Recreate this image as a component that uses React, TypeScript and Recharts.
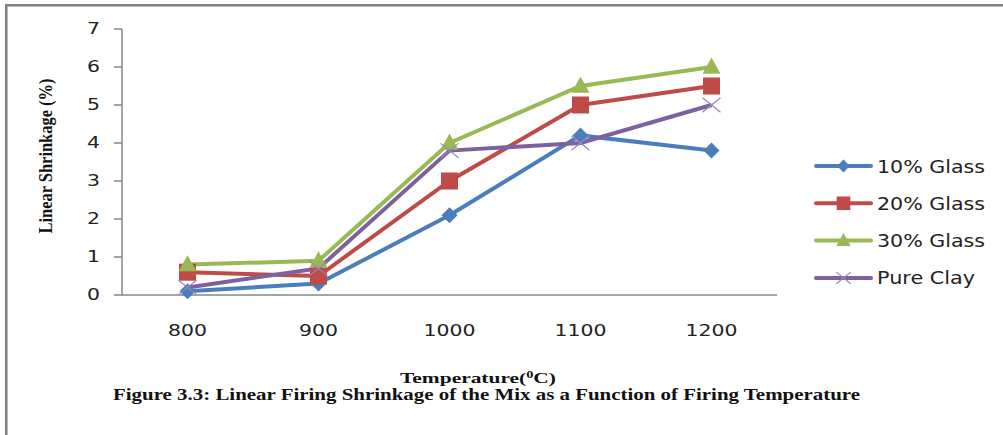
import React from 'react';
import { LineChart, Line, XAxis, YAxis, Legend } from 'recharts';

const temperatures = ['800', '900', '1000', '1100', '1200'];
const glass10 = [0.1, 0.3, 2.1, 4.2, 3.8];
const glass20 = [0.6, 0.5, 3.0, 5.0, 5.5];
const glass30 = [0.8, 0.9, 4.0, 5.5, 6.0];
const pureClay = [0.2, 0.7, 3.8, 4.0, 5.0];
const yTicks = [0, 1, 2, 3, 4, 5, 6, 7];

const data = temperatures.map((temp, i) => ({
  temp,
  glass10: glass10[i],
  glass20: glass20[i],
  glass30: glass30[i],
  pureClay: pureClay[i],
}));

const BLUE = '#4A7EBB';
const RED = '#BE4B48';
const GREEN = '#98B954';
const PURPLE = '#7D60A0';
const AXIS = '#868686';

type Shape = 'diamond' | 'square' | 'triangle' | 'cross';

function marker(shape: Shape, cx: number, cy: number, color: string, s: number, key?: string) {
  if (shape === 'diamond') {
    return (
      <polygon key={key} points={`${cx},${cy - s} ${cx + s},${cy} ${cx},${cy + s} ${cx - s},${cy}`} fill={color} />
    );
  }
  if (shape === 'square') {
    return <rect key={key} x={cx - s} y={cy - s} width={s * 2} height={s * 2} fill={color} />;
  }
  if (shape === 'triangle') {
    return (
      <polygon key={key} points={`${cx},${cy - s * 1.05} ${cx + s},${cy + s * 0.75} ${cx - s},${cy + s * 0.75}`} fill={color} />
    );
  }
  return (
    <g key={key} stroke="#9A84C0" strokeWidth={1.2}>
      <line x1={cx - s} y1={cy - s * 0.8} x2={cx + s} y2={cy + s * 0.8} />
      <line x1={cx - s} y1={cy + s * 0.8} x2={cx + s} y2={cy - s * 0.8} />
    </g>
  );
}

const makeDot = (shape: Shape, color: string, s: number) => (props: any) => {
  const { cx, cy, index } = props;
  if (cx == null || cy == null) return <g key={`e-${index}`} />;
  return marker(shape, cx, cy, color, s, `${shape}-${index}`);
};

const series = [
  { key: 'glass10', name: '10% Glass', color: BLUE, shape: 'diamond' as Shape, size: 8, legendLen: 108 },
  { key: 'glass20', name: '20% Glass', color: RED, shape: 'square' as Shape, size: 8.5, legendLen: 108 },
  { key: 'glass30', name: '30% Glass', color: GREEN, shape: 'triangle' as Shape, size: 9, legendLen: 108 },
  { key: 'pureClay', name: 'Pure Clay', color: PURPLE, shape: 'cross' as Shape, size: 9, legendLen: 98 },
];

const tickFont = "'DejaVu Sans', sans-serif";
const serifFont = "'Liberation Serif', serif";

const XTick = (props: any) => {
  const { x, y, payload } = props;
  const label = String(payload.value);
  return (
    <text x={x} y={y + 41} textAnchor="middle" fill="#222" fontSize={15} fontFamily={tickFont}
      textLength={label.length * 13} lengthAdjust="spacingAndGlyphs">
      {label}
    </text>
  );
};

const YTick = (props: any) => {
  const { x, y, payload } = props;
  return (
    <text x={x} y={y + 5} textAnchor="end" fill="#222" fontSize={15} fontFamily={tickFont}
      textLength={13} lengthAdjust="spacingAndGlyphs">
      {payload.value}
    </text>
  );
};

const renderLegend = () => (
  <svg width={190} height={150}>
    {series.map((s, i) => {
      const cy = 18 + i * 37.3;
      return (
        <g key={s.key}>
          <line x1={4} y1={cy} x2={59} y2={cy} stroke={s.color} strokeWidth={4} strokeLinecap="round" />
          {marker(s.shape, 31.5, cy, s.color, s.size * 0.8)}
          <text x={65} y={cy + 6.5} fontSize={18} fontFamily={tickFont} fill="#222"
            textLength={s.legendLen} lengthAdjust="spacingAndGlyphs">
            {s.name}
          </text>
        </g>
      );
    })}
  </svg>
);

export default function App() {
  return (
    <div style={{ position: 'fixed', left: 0, top: 0, width: 1003, height: 435, background: '#fff', overflow: 'hidden' }}>
      <LineChart width={1003} height={435} data={data} margin={{ top: 29, right: 226, bottom: 110, left: 62 }}>
        <XAxis
          dataKey="temp"
          padding={{ left: 65.5, right: 65.5 }}
          height={30}
          stroke={AXIS}
          strokeWidth={1.5}
          tickLine={false}
          tickSize={0}
          tickMargin={0}
          tick={<XTick />}
          interval={0}
        />
        <YAxis
          domain={[0, 7]}
          ticks={yTicks}
          width={60}
          stroke={AXIS}
          strokeWidth={1.5}
          tickSize={8}
          tickMargin={14}
          tick={<YTick />}
          interval={0}
        />
        <Legend
          layout="vertical"
          align="center"
          verticalAlign="middle"
          content={renderLegend}
          wrapperStyle={{ position: 'absolute', left: 812, top: 148, width: 190, height: 150 }}
        />
        {series.map((s) => (
          <Line
            key={s.key}
            type="linear"
            dataKey={s.key}
            name={s.name}
            stroke={s.color}
            strokeWidth={4}
            dot={makeDot(s.shape, s.color, s.size)}
            activeDot={false}
            isAnimationActive={false}
          />
        ))}
      </LineChart>
      <svg width={1003} height={435} style={{ position: 'absolute', left: 0, top: 0, pointerEvents: 'none' }}>
        <rect x={5} y={4} width={998} height={2.5} fill="#7F7F7F" />
        <rect x={5} y={4} width={2.5} height={431} fill="#7F7F7F" />
        <text
          transform="translate(52,156) rotate(-90)"
          textAnchor="middle"
          fontSize={19}
          fontWeight="bold"
          fontFamily={serifFont}
          fill="#111"
          textLength={155}
          lengthAdjust="spacingAndGlyphs"
        >
          Linear Shrinkage (%)
        </text>
        <text x={400} y={383} fontSize={15} fontWeight="bold" fontFamily={serifFont} fill="#111"
          textLength={156} lengthAdjust="spacingAndGlyphs">
          Temperature(<tspan fontSize={10} dy={-5}>0</tspan><tspan dy={5}>C)</tspan>
        </text>
        <text x={113} y={400} fontSize={16} fontWeight="bold" fontFamily={serifFont} fill="#111"
          textLength={747} lengthAdjust="spacingAndGlyphs">
          Figure 3.3: Linear Firing Shrinkage of the Mix as a Function of Firing Temperature
        </text>
      </svg>
    </div>
  );
}
